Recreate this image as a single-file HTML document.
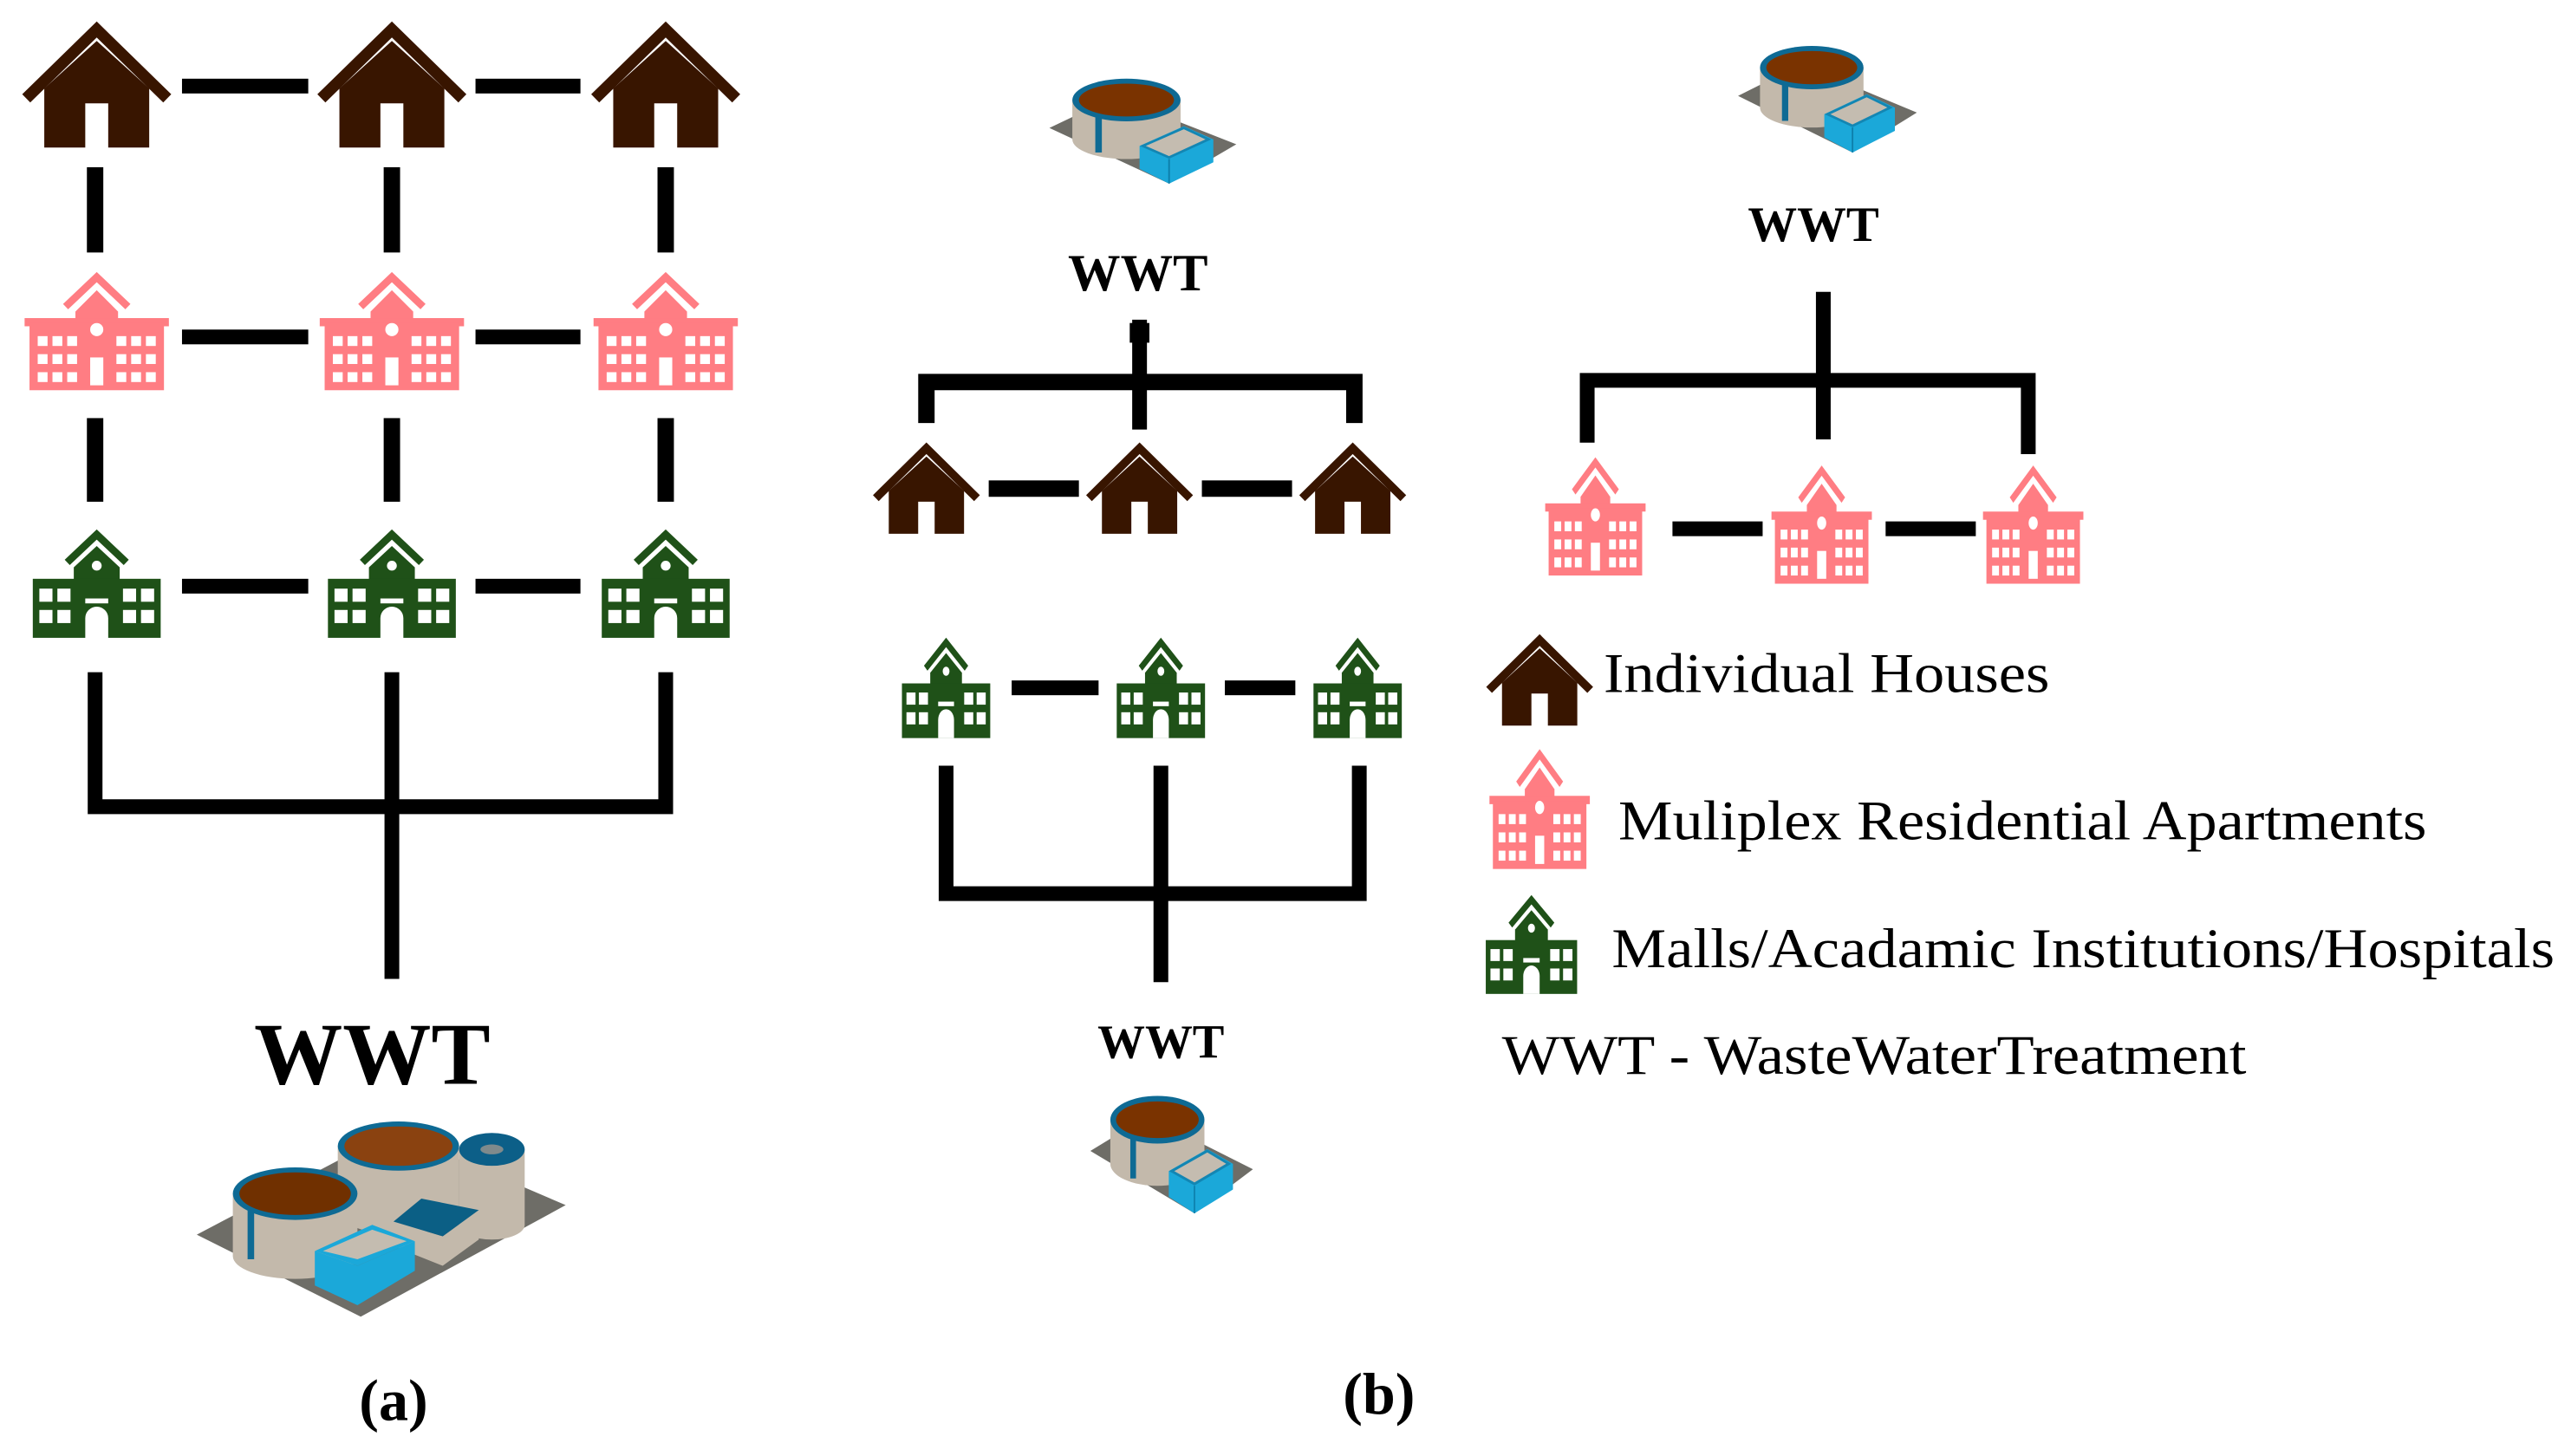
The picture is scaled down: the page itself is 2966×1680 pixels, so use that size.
<!DOCTYPE html>
<html><head><meta charset="utf-8"><style>
html,body{margin:0;padding:0;background:#fff;}
svg{display:block;}
text{font-family:"Liberation Serif","DejaVu Serif",serif;}
</style></head><body>
<svg width="2966" height="1680" viewBox="0 0 1568 888" preserveAspectRatio="none" xmlns="http://www.w3.org/2000/svg" font-family="Liberation Serif, serif">
<defs>
<symbol id="house" viewBox="-46 -4 92 80" overflow="visible" preserveAspectRatio="none">
  <polyline points="-43,44 0,2 43,44" fill="none" stroke="#381500" stroke-width="7" stroke-linejoin="miter"/>
  <path d="M-32,74 V38 L0,9 L32,38 V74 H7 V47 H-7 V74 Z" fill="#381500"/>
</symbol>
<symbol id="apt" viewBox="-46 -2 92 74" overflow="visible" preserveAspectRatio="none">
  <g fill="#ff7d83">
  <polyline points="-19,19 0,1 19,19" fill="none" stroke="#ff7d83" stroke-width="4.5"/>
  <path d="M-13,28 V22 L0,9 L13,22 V28 Z"/>
  <rect x="-44" y="26" width="88" height="5"/>
  <rect x="-41" y="29" width="82" height="41"/>
  </g>
  <g fill="#fff">
  <circle cx="0" cy="33" r="4"/>
  <rect x="-4" y="50" width="8" height="17"/>
  <g id="aw">
   <rect x="-36" y="37" width="6" height="6"/><rect x="-27" y="37" width="6" height="6"/><rect x="-18" y="37" width="6" height="6"/>
   <rect x="-36" y="48" width="6" height="6"/><rect x="-27" y="48" width="6" height="6"/><rect x="-18" y="48" width="6" height="6"/>
   <rect x="-36" y="59" width="6" height="6"/><rect x="-27" y="59" width="6" height="6"/><rect x="-18" y="59" width="6" height="6"/>
  </g>
  <use href="#aw" transform="translate(48,0)"/>
  </g>
</symbol>
<symbol id="mall" viewBox="-42 -2 84 68" overflow="visible" preserveAspectRatio="none">
  <g fill="#1f5118">
  <polyline points="-18,18 0,1 18,18" fill="none" stroke="#1f5118" stroke-width="4.5"/>
  <path d="M-14,30 V21 L0,8 L14,21 V30 Z"/>
  <rect x="-39" y="28" width="78" height="36"/>
  </g>
  <g fill="#fff">
  <circle cx="0" cy="20" r="3"/>
  <rect x="-7" y="40" width="14" height="3"/>
  <path d="M-7,64 V52 A7,7 0 0 1 7,52 V64 Z"/>
  <g id="mw">
   <rect x="-35" y="34" width="8" height="8"/><rect x="-24" y="34" width="8" height="8"/>
   <rect x="-35" y="47" width="8" height="8"/><rect x="-24" y="47" width="8" height="8"/>
  </g>
  <use href="#mw" transform="translate(51,0)"/>
  </g>
</symbol>
<symbol id="sp" viewBox="0 0 115 67" preserveAspectRatio="none">
  <polygon points="0,33 40,14 114,43 73,67" fill="#6e6d67"/>
  <path d="M14,16 V40 A33,12 0 0 0 80,40 V16 Z" fill="#c3b9ab"/>
  <rect x="28" y="26" width="4" height="22" fill="#0e6a94"/>
  <ellipse cx="47" cy="16" rx="33" ry="13" fill="#0e6a94"/>
  <ellipse cx="47" cy="16" rx="29" ry="10" fill="#7a3300"/>
  <polygon points="55,44 82,32 100,40 100,54 73,67 55,58" fill="#1ba8d9"/>
  <polygon points="57,44 82,33 97,40 73,51" fill="#c4bcb0" stroke="#1386b3" stroke-width="1.5"/>
  <line x1="73" y1="52" x2="73" y2="67" stroke="#0d7eaa" stroke-width="1"/>
</symbol>
</defs>

<g fill="#000">
<rect x="111" y="48" width="77" height="9"/><rect x="290" y="48" width="64" height="9"/>
<rect x="111" y="201" width="77" height="9"/><rect x="290" y="201" width="64" height="9"/>
<rect x="111" y="353" width="77" height="9"/><rect x="290" y="353" width="64" height="9"/>
<rect x="53" y="102" width="10" height="52"/><rect x="234" y="102" width="10" height="52"/><rect x="401" y="102" width="10" height="52"/>
<rect x="53" y="255" width="10" height="51"/><rect x="234" y="255" width="10" height="51"/><rect x="401" y="255" width="10" height="51"/>
</g>
<polyline points="58,410 58,492 406,492 406,410" fill="none" stroke="#000" stroke-width="9"/>
<line x1="239" y1="410" x2="239" y2="597" stroke="#000" stroke-width="9"/>

<use href="#house" x="13" y="12" width="92" height="80"/>
<use href="#house" x="193" y="12" width="92" height="80"/>
<use href="#house" x="360" y="12" width="92" height="80"/>
<use href="#apt" x="13" y="166" width="92" height="74"/>
<use href="#apt" x="193" y="166" width="92" height="74"/>
<use href="#apt" x="360" y="166" width="92" height="74"/>
<use href="#mall" x="17" y="323" width="84" height="68"/>
<use href="#mall" x="197" y="323" width="84" height="68"/>
<use href="#mall" x="364" y="323" width="84" height="68"/>

<text x="227" y="661" font-size="54" font-weight="bold" text-anchor="middle" font-family="Liberation Serif, serif">WWT</text>

<g>
  <polygon points="120,753 240,690 345,735 220,803" fill="#6e6d67"/>
  <path d="M206,699 V738 A37,15 0 0 0 280,738 V699 Z" fill="#c3b9ab"/>
  <ellipse cx="243" cy="699" rx="37" ry="15" fill="#0e6a94"/>
  <ellipse cx="243" cy="699" rx="33" ry="12" fill="#8a4210"/>
  <path d="M280,701 V747 A20,9 0 0 0 320,747 V701 Z" fill="#c3b9ab"/>
  <ellipse cx="300" cy="701" rx="20" ry="10" fill="#0c5f88"/>
  <ellipse cx="300" cy="701" rx="7" ry="3" fill="#7f8a8c"/>
  <path d="M142,728 V766 A38,14 0 0 0 218,766 V728 Z" fill="#c3b9ab"/>
  <rect x="151" y="736" width="4" height="32" fill="#0e6a94"/>
  <ellipse cx="180" cy="728" rx="38" ry="16" fill="#0e6a94"/>
  <ellipse cx="180" cy="728" rx="34" ry="13" fill="#703000"/>
  <polygon points="240,745 270,754 292,738 292,756 270,772 240,760" fill="#c3b9ab"/>
  <polygon points="240,745 257,731 292,738 270,754" fill="#0b5f85"/>
  <polygon points="192,763 218,772 253,757 253,775 218,796 192,784" fill="#1ba8d9"/>
  <polygon points="192,763 227,747 253,757 218,772" fill="#1ba8d9"/>
  <polygon points="197,763 227,750 248,757 218,768" fill="#c4bcb0"/>
</g>
<text x="240" y="866" font-size="36" font-weight="bold" text-anchor="middle" font-family="Liberation Serif, serif">(a)</text>

<use href="#sp" x="640" y="45" width="115" height="67"/>
<text x="694" y="177" font-size="32" font-weight="bold" text-anchor="middle" font-family="Liberation Serif, serif">WWT</text>
<line x1="695" y1="195" x2="695" y2="262" stroke="#000" stroke-width="9"/>
<rect x="689" y="197" width="12" height="12" fill="#000"/>
<polyline points="565,258 565,233 826,233 826,258" fill="none" stroke="#000" stroke-width="10"/>
<rect x="603" y="293" width="55" height="10" fill="#000"/>
<rect x="733" y="293" width="55" height="10" fill="#000"/>
<use href="#house" x="532" y="269" width="66" height="58"/>
<use href="#house" x="662" y="269" width="66" height="58"/>
<use href="#house" x="792" y="269" width="66" height="58"/>

<rect x="617" y="415" width="53" height="9" fill="#000"/>
<rect x="747" y="415" width="43" height="9" fill="#000"/>
<use href="#mall" x="548" y="389" width="58" height="63"/>
<use href="#mall" x="679" y="389" width="58" height="63"/>
<use href="#mall" x="799" y="389" width="58" height="63"/>
<polyline points="577,467 577,545 829,545 829,467" fill="none" stroke="#000" stroke-width="9"/>
<line x1="708" y1="467" x2="708" y2="599" stroke="#000" stroke-width="9"/>
<text x="708" y="645" font-size="29" font-weight="bold" text-anchor="middle" font-family="Liberation Serif, serif">WWT</text>
<use href="#sp" x="665" y="665" width="100" height="75"/>
<text x="841" y="862" font-size="36" font-weight="bold" text-anchor="middle" font-family="Liberation Serif, serif">(b)</text>

<use href="#sp" x="1060" y="25" width="110" height="68"/>
<text x="1106" y="147" font-size="30" font-weight="bold" text-anchor="middle" font-family="Liberation Serif, serif">WWT</text>
<line x1="1112" y1="178" x2="1112" y2="268" stroke="#000" stroke-width="9"/>
<polyline points="968,270 968,232 1237,232 1237,277" fill="none" stroke="#000" stroke-width="9"/>
<rect x="1020" y="318" width="55" height="9" fill="#000"/>
<rect x="1150" y="318" width="55" height="9" fill="#000"/>
<use href="#apt" x="941" y="279" width="64" height="74"/>
<use href="#apt" x="1079" y="284" width="64" height="74"/>
<use href="#apt" x="1208" y="284" width="64" height="74"/>

<use href="#house" x="906" y="386" width="66" height="58"/>
<text x="978" y="422" font-size="34" textLength="272" lengthAdjust="spacingAndGlyphs" font-family="Liberation Serif, serif">Individual Houses</text>
<use href="#apt" x="907" y="457" width="64" height="75"/>
<text x="987" y="512" font-size="34" textLength="493" lengthAdjust="spacingAndGlyphs" font-family="Liberation Serif, serif">Muliplex Residential Apartments</text>
<use href="#mall" x="904" y="546" width="60" height="62"/>
<text x="983" y="590" font-size="34" textLength="575" lengthAdjust="spacingAndGlyphs" font-family="Liberation Serif, serif">Malls/Acadamic Institutions/Hospitals</text>
<text x="916" y="655" font-size="34" textLength="454" lengthAdjust="spacingAndGlyphs" font-family="Liberation Serif, serif">WWT - WasteWaterTreatment</text>
</svg>
</body></html>
